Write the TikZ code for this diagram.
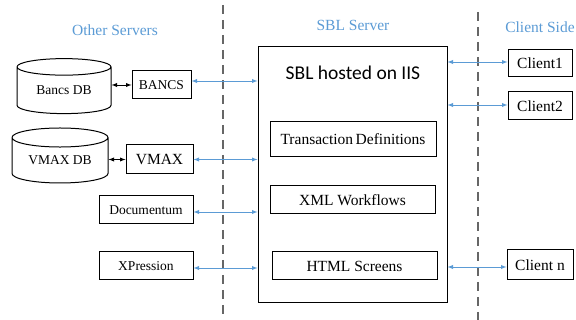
\documentclass[tikz,border=0pt]{standalone}
\usepackage{fontspec}
\setmainfont{Liberation Serif}
\newfontfamily\sblfont{Carlito}
\definecolor{skyblue}{RGB}{91, 155, 213}
\usetikzlibrary{arrows}
\usetikzlibrary{shapes.geometric, positioning}
\usetikzlibrary{calc}

\begin{document}
\begin{tikzpicture}[x=1pt, y=-1pt,
    box/.style={draw, line width=1pt, inner sep=0pt, anchor=center, font=\fontsize{15.5}{17}\selectfont},
    smallbox/.style={box, font=\fontsize{13.5}{15}\selectfont},
    dbase/.style={draw, line width=1pt, cylinder, shape border rotate=90, aspect=0.3, inner sep=0pt, font=\fontsize{13.5}{15}\selectfont},
    heading/.style={text=skyblue, font=\fontsize{15.5}{17}\selectfont},
    link/.style={skyblue, line width=0.9pt, latex-latex},
    dblink/.style={black, line width=0.9pt, latex-latex}]
        \useasboundingbox (0,0) rectangle (576,320);

        % Column separators
        \draw[gray!80!black, line width=1.3pt, dash pattern=on 9pt off 6pt] (223,5) -- (223,320);
        \draw[gray!80!black, line width=1.3pt, dash pattern=on 9pt off 6pt] (478,12) -- (478,320);

        % Headings
        \node[heading] (hother) at (115,30) {Other Servers};
        \node[heading] (hsbl) at (353,25) {SBL Server};
        \node[heading] (hclient) at (540,27) {Client Side};

        % Other servers
        \node[dbase, minimum width=94pt, minimum height=55pt] (bancsdb) at (64,90.5) {Bancs DB};
        \node[smallbox, minimum width=59pt, minimum height=28pt] (bancs) at (161.5,85) {BANCS};
        \node[dbase, minimum width=96pt, minimum height=55pt] (vmaxdb) at (60,160.5) {VMAX DB};
        \node[box, minimum width=67pt, minimum height=29pt] (vmax) at (159.5,159.5) {VMAX};
        \node[smallbox, minimum width=94pt, minimum height=28pt] (docum) at (146,210) {Documentum};
        \node[smallbox, minimum width=94pt, minimum height=28pt] (xpress) at (146,266) {XPression};

        % SBL server
        \node[draw, line width=1pt, minimum width=189pt, minimum height=256pt, inner sep=0pt] (sbl) at (352.5,175) {};
        \node[font=\sblfont\fontsize{19.5}{21}\selectfont] (sbltitle) at (353,73) {SBL hosted on IIS};
        \node[box, minimum width=166pt, minimum height=35pt] (trans) at (353,139.5) {Transaction\,Definitions};
        \node[box, minimum width=165pt, minimum height=28pt] (xml) at (352.5,200) {XML Workflows};
        \node[box, minimum width=165pt, minimum height=28pt] (html) at (354.5,266) {HTML Screens};

        % Clients
        \node[box, minimum width=64pt, minimum height=27pt] (client1) at (540,63.5) {Client1};
        \node[box, minimum width=64pt, minimum height=28pt] (client2) at (540,106) {Client2};
        \node[box, minimum width=66pt, minimum height=30pt] (clientn) at (540,265) {Client n};

        % Database links
        \draw[dblink] (bancs.west -| bancsdb.east) -- (bancs.west);
        \draw[dblink] (vmax.west -| vmaxdb.east) -- (vmax.west);

        % Server links
        \draw[link] ($(bancs.east)+(0,-4)$) -- ($(bancs.east -| sbl.west)+(0,-4)$);
        \draw[link] (vmax.east) -- (vmax.east -| sbl.west);
        \draw[link] ($(docum.east)+(0,2)$) -- ($(docum.east -| sbl.west)+(0,2)$);
        \draw[link] ($(xpress.east)+(0,2)$) -- ($(xpress.east -| sbl.west)+(0,2)$);

        % Client links
        \draw[link] ($(client1.west -| sbl.east)+(0,-1.5)$) -- ($(client1.west)+(0,-1.5)$);
        \draw[link] ($(client2.west -| sbl.east)+(0,-1)$) -- ($(client2.west)+(0,-1)$);
        \draw[link] ($(clientn.west -| sbl.east)+(0,2)$) -- ($(clientn.west)+(0,2)$);

    \end{tikzpicture}
\end{document}
